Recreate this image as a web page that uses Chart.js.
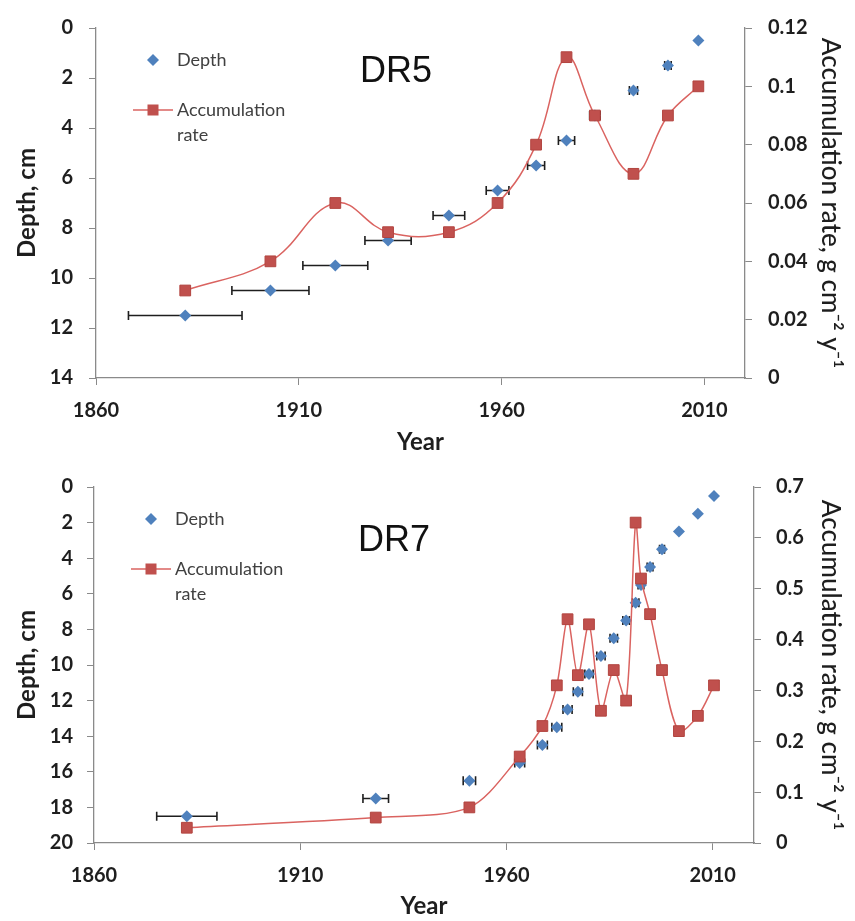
<!DOCTYPE html>
<html>
<head>
<meta charset="utf-8">
<title>DR5 / DR7 depth and accumulation rate</title>
<script src="https://cdn.jsdelivr.net/npm/chart.js@4.4.1/dist/chart.umd.min.js"></script>
<style>
  body { margin: 0; background: #fff; }
  .panel { position: absolute; left: 0; width: 855px; }
  #top { top: 0; height: 460px; }
  #bottom { top: 460px; height: 461px; }
</style>
</head>
<body>
<div class="panel" id="top"><canvas id="dr5" width="855" height="460"></canvas></div>
<div class="panel" id="bottom"><canvas id="dr7" width="855" height="461"></canvas></div>
<script>
// year ticks, same for both cores
const yearTicks = [1860, 1910, 1960, 2010];

// DR5
const dr5Years = [1882, 1903, 1919, 1932, 1947, 1959, 1968.5, 1976, 1983, 1992.5, 2001, 2008.5];
const dr5Depth = [11.5, 10.5, 9.5, 8.5, 7.5, 6.5, 5.5, 4.5, 3.5, 2.5, 1.5, 0.5];
const dr5YearErr = [14, 9.5, 8, 5.7, 3.9, 2.8, 2.1, 2, 1.3, 1, 0.8, 0];
const dr5Rate = [0.03, 0.04, 0.06, 0.05, 0.05, 0.06, 0.08, 0.11, 0.09, 0.07, 0.09, 0.10];

// DR7
const dr7Years = [1882.5, 1928.3, 1951, 1963.2, 1968.7, 1972.2, 1974.8, 1977.3, 1980, 1982.9, 1986, 1989, 1991.3, 1992.6, 1994.8, 1997.7, 2001.8, 2006.4, 2010.3];
const dr7Depth = [18.5, 17.5, 16.5, 15.5, 14.5, 13.5, 12.5, 11.5, 10.5, 9.5, 8.5, 7.5, 6.5, 5.5, 4.5, 3.5, 2.5, 1.5, 0.5];
const dr7YearErr = [7.3, 3.1, 1.5, 1.2, 1.2, 1.2, 1.1, 1.1, 1, 1, 0.9, 0.8, 0.8, 0.7, 0.7, 0.6, 0, 0, 0];
const dr7Rate = [0.03, 0.05, 0.07, 0.17, 0.23, 0.31, 0.44, 0.33, 0.43, 0.26, 0.34, 0.28, 0.63, 0.52, 0.45, 0.34, 0.22, 0.25, 0.31];

const BLUE = '#4F81BD';
const RED = '#C0504D';
const LINE_RED = '#DA6360';
const AXIS = '#8a8a8a';
const TEXT = '#1e1e1e';
const FONT = 'Lato';

// horizontal dating error bars under the depth diamonds
const errorBars = {
  id: 'errorBars',
  beforeDatasetsDraw(chart, args, opts) {
    const ds = chart.data.datasets[opts.dataset];
    const xs = chart.scales.x, ys = chart.scales.yDepth;
    const ctx = chart.ctx;
    ctx.save();
    ctx.strokeStyle = '#1e1e1e';
    ctx.lineWidth = 1.6;
    ds.data.forEach((p, i) => {
      const e = opts.errors[i];
      if (!e) return;
      const x0 = xs.getPixelForValue(p.x - e);
      const x1 = xs.getPixelForValue(p.x + e);
      const py = ys.getPixelForValue(p.y);
      ctx.beginPath();
      ctx.moveTo(x0, py); ctx.lineTo(x1, py);
      ctx.moveTo(x0, py - 4.5); ctx.lineTo(x0, py + 4.5);
      ctx.moveTo(x1, py - 4.5); ctx.lineTo(x1, py + 4.5);
      ctx.stroke();
    });
    ctx.restore();
  }
};

// core name and the in-plot legend
const insideLabels = {
  id: 'insideLabels',
  afterDraw(chart, args, opts) {
    const {ctx, chartArea: a} = chart;
    ctx.save();
    ctx.fillStyle = '#111';
    ctx.font = '36px "Liberation Sans", Arial, sans-serif';
    ctx.textAlign = 'center';
    ctx.textBaseline = 'middle';
    ctx.fillText(opts.title, a.left + 300, a.top + opts.titleY);

    const mx = a.left + 57;
    // Depth entry
    ctx.fillStyle = BLUE;
    ctx.beginPath();
    ctx.moveTo(mx - 6, a.top + 32); ctx.lineTo(mx, a.top + 26);
    ctx.lineTo(mx + 6, a.top + 32); ctx.lineTo(mx, a.top + 38);
    ctx.closePath();
    ctx.fill();
    // Accumulation rate entry
    ctx.strokeStyle = LINE_RED;
    ctx.lineWidth = 1.5;
    ctx.beginPath();
    ctx.moveTo(a.left + 37, a.top + 82); ctx.lineTo(a.left + 77, a.top + 82);
    ctx.stroke();
    ctx.fillStyle = RED;
    ctx.fillRect(mx - 5.5, a.top + 76.5, 11, 11);

    ctx.fillStyle = '#404040';
    ctx.font = '18px ' + FONT;
    ctx.textAlign = 'left';
    ctx.fillText('Depth', a.left + 81, a.top + 32);
    ctx.fillText('Accumulation', a.left + 81, a.top + 82);
    ctx.fillText('rate', a.left + 81, a.top + 107);
    ctx.restore();
  }
};

function makeChart(id, c) {
  const tickFont = {family: FONT, size: 20, weight: 'bold'};
  return new Chart(document.getElementById(id), {
    type: 'scatter',
    data: {
      datasets: [
        {
          label: 'Accumulation rate',
          data: c.years.map((x, i) => ({x, y: c.rate[i]})),
          yAxisID: 'yRate',
          showLine: true,
          tension: c.tension,
          borderColor: LINE_RED,
          borderWidth: 1.5,
          pointStyle: 'rect',
          pointRadius: 7.6,
          pointBackgroundColor: RED,
          pointBorderColor: '#B2443F',
          pointBorderWidth: 1
        },
        {
          label: 'Depth',
          data: c.years.map((x, i) => ({x, y: c.depth[i]})),
          yAxisID: 'yDepth',
          pointStyle: 'rectRot',
          pointRadius: 6,
          pointBackgroundColor: BLUE,
          pointBorderColor: BLUE,
          pointBorderWidth: 0
        }
      ]
    },
    options: {
      responsive: false,
      animation: false,
      layout: {padding: {top: c.padTop}},
      plugins: {
        legend: {display: false},
        tooltip: {enabled: false},
        errorBars: {dataset: 1, errors: c.yearErr},
        insideLabels: {title: c.title, titleY: c.titleY}
      },
      scales: {
        x: {
          type: 'linear',
          min: 1860,
          max: 2020,
          afterBuildTicks: s => { s.ticks = yearTicks.map(v => ({value: v})); },
          afterFit: s => { s.height = c.xHeight; },
          grid: {drawOnChartArea: false, color: AXIS, tickLength: 7},
          border: {color: AXIS, width: 1.3},
          ticks: {font: tickFont, color: TEXT, padding: 14, maxRotation: 0, callback: v => String(v)},
          title: {display: true, text: 'Year', color: TEXT, font: {family: FONT, size: 24, weight: 'bold'}, padding: {bottom: c.yearPad}}
        },
        yDepth: {
          position: 'left',
          reverse: true,
          min: 0,
          max: c.depthMax,
          afterFit: s => { s.width = c.leftW; },
          grid: {drawOnChartArea: false, color: AXIS, tickLength: 7},
          border: {color: AXIS, width: 1.3},
          ticks: {stepSize: 2, font: tickFont, color: TEXT, padding: c.leftPad, callback: v => String(v)},
          title: {display: true, text: 'Depth, cm', color: TEXT, font: {family: FONT, size: 24, weight: 'bold'}, padding: {top: 13}}
        },
        yRate: {
          position: 'right',
          min: 0,
          max: c.rateMax,
          afterFit: s => { s.width = c.rightW; },
          grid: {drawOnChartArea: false, color: AXIS, tickLength: 7},
          border: {color: AXIS, width: 1.3},
          ticks: {stepSize: c.rateStep, font: tickFont, color: TEXT, padding: c.rightPad, callback: v => String(+v.toFixed(3))},
          title: {display: true, text: 'Accumulation rate, g cm\u207B\u00B2 y\u207B\u00B9', color: TEXT, font: {family: FONT, size: 26, weight: '500'}, padding: {top: 9}}
        }
      }
    },
    plugins: [errorBars, insideLabels]
  });
}

makeChart('dr5', {
  title: 'DR5', titleY: 44, tension: 0.4,
  years: dr5Years, depth: dr5Depth, yearErr: dr5YearErr, rate: dr5Rate,
  depthMax: 14, rateMax: 0.12, rateStep: 0.02,
  padTop: 21, xHeight: 82, leftW: 96, rightW: 110,
  leftPad: 16, rightPad: 16, yearPad: 3
});

makeChart('dr7', {
  title: 'DR7', titleY: 54, tension: 0.3,
  years: dr7Years, depth: dr7Depth, yearErr: dr7YearErr, rate: dr7Rate,
  depthMax: 20, rateMax: 0.7, rateStep: 0.1,
  padTop: 26, xHeight: 78, leftW: 94, rightW: 101,
  leftPad: 14, rightPad: 15, yearPad: 0
});
</script>
</body>
</html>
